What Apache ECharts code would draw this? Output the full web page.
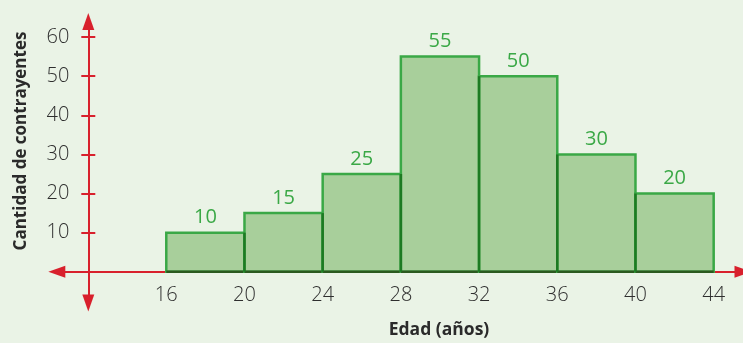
<!DOCTYPE html>
<html>
<head>
<meta charset="utf-8">
<style>
  html, body { margin: 0; padding: 0; background: #eaf3e6; }
  #chart { width: 743px; height: 343px; }
</style>
<script src="https://cdn.jsdelivr.net/npm/echarts@6/dist/echarts.min.js"></script>
</head>
<body>
<div id="chart"></div>
<script>
// Age classes (years) and number of taxpayers per class
const classStarts = [16, 20, 24, 28, 32, 36, 40];
const classEnds   = [20, 24, 28, 32, 36, 40, 44];
const counts      = [10, 15, 25, 55, 50, 30, 20];
const xTicks = [16, 20, 24, 28, 32, 36, 40, 44];
const yTicks = [10, 20, 30, 40, 50, 60];

const RED = '#d8202c';
const GREEN = '#3aa846';
const DARK_GREEN = '#1d7a22';
const FILL = '#a8cf9b';
const FONT = '"Open Sans", "Noto Sans", sans-serif';

// [start, end, count, count of the previous class (0 for the first)]
const histData = classStarts.map((s, i) => [s, classEnds[i], counts[i], i > 0 ? counts[i - 1] : 0]);

const chart = echarts.init(document.getElementById('chart'), null, { renderer: 'canvas' });

function renderBar(params, api) {
  const x0 = api.value(0), x1 = api.value(1), v = api.value(2), prev = api.value(3);
  const p0 = api.coord([x0, 0]);
  const p1 = api.coord([x1, v]);
  const left = p0[0], right = p1[0], top = p1[1], base = p0[1];
  const children = [
    {
      type: 'rect',
      shape: { x: left, y: top, width: right - left, height: base - top },
      style: { fill: FILL, stroke: GREEN, lineWidth: 2.5 }
    },
    {
      type: 'line',
      shape: { x1: left, y1: base, x2: right, y2: base },
      style: { stroke: '#2b5a1f', lineWidth: 2.5 }
    },
    {
      type: 'text',
      style: {
        x: (left + right) / 2, y: top - 5,
        text: String(v),
        fill: GREEN, font: '400 20px ' + FONT,
        align: 'center', verticalAlign: 'bottom'
      }
    }
  ];
  // the edge shared with the previous class is drawn darker
  if (prev > 0) {
    const sharedTop = api.coord([x0, Math.min(v, prev)])[1];
    children.push({
      type: 'line',
      shape: { x1: left, y1: sharedTop, x2: left, y2: base },
      style: { stroke: DARK_GREEN, lineWidth: 2.5 }
    });
  }
  return { type: 'group', children: children };
}

const yAxisBase = {
  type: 'value',
  min: -8,
  max: 64,
  position: 'left',
  offset: -31.5,
  splitLine: { show: false }
};

chart.setOption({
  backgroundColor: '#eaf3e6',
  animation: false,
  grid: { left: 56.8, right: -2.4, top: 21.4, bottom: 39.9, containLabel: false },
  xAxis: {
    type: 'value',
    min: 10.4,
    max: 45.5,
    position: 'bottom',
    offset: -31.3,
    axisLine: {
      onZero: false,
      lineStyle: { color: RED, width: 2 },
      symbol: ['triangle', 'triangle'],
      symbolSize: [12, 17]
    },
    axisTick: { show: false },
    splitLine: { show: false },
    axisLabel: {
      customValues: xTicks,
      color: '#2e2e2e',
      fontFamily: FONT,
      fontWeight: 300,
      fontSize: 20,
      margin: 13
    }
  },
  yAxis: [
    Object.assign({}, yAxisBase, {
      axisLine: {
        show: true,
        lineStyle: { color: RED, width: 2 },
        symbol: ['triangle', 'triangle'],
        symbolSize: [12, 17]
      },
      axisTick: { show: true, customValues: yTicks, length: 7, lineStyle: { color: RED, width: 2 } },
      axisLabel: {
        customValues: yTicks,
        color: '#2e2e2e',
        fontFamily: FONT,
        fontWeight: 300,
        fontSize: 20,
        margin: 19
      }
    }),
    Object.assign({}, yAxisBase, {
      axisLine: { show: false },
      axisTick: { show: true, inside: true, customValues: yTicks, length: 7, lineStyle: { color: RED, width: 2 } },
      axisLabel: { show: false }
    })
  ],
  series: [{
    type: 'custom',
    renderItem: renderBar,
    data: histData,
    encode: { x: [0, 1], y: 2 },
    z: 5,
    clip: false
  }],
  graphic: [
    {
      type: 'text',
      x: 21.5, y: 141,
      rotation: Math.PI / 2,
      style: {
        text: 'Cantidad de contrayentes',
        fill: '#2a2a2a',
        font: 'bold 17px ' + FONT,
        align: 'center', verticalAlign: 'middle'
      }
    },
    {
      type: 'text',
      x: 439, y: 330,
      style: {
        text: 'Edad (años)',
        fill: '#2a2a2a',
        font: 'bold 17.5px ' + FONT,
        align: 'center', verticalAlign: 'middle'
      }
    }
  ]
});
</script>
</body>
</html>
